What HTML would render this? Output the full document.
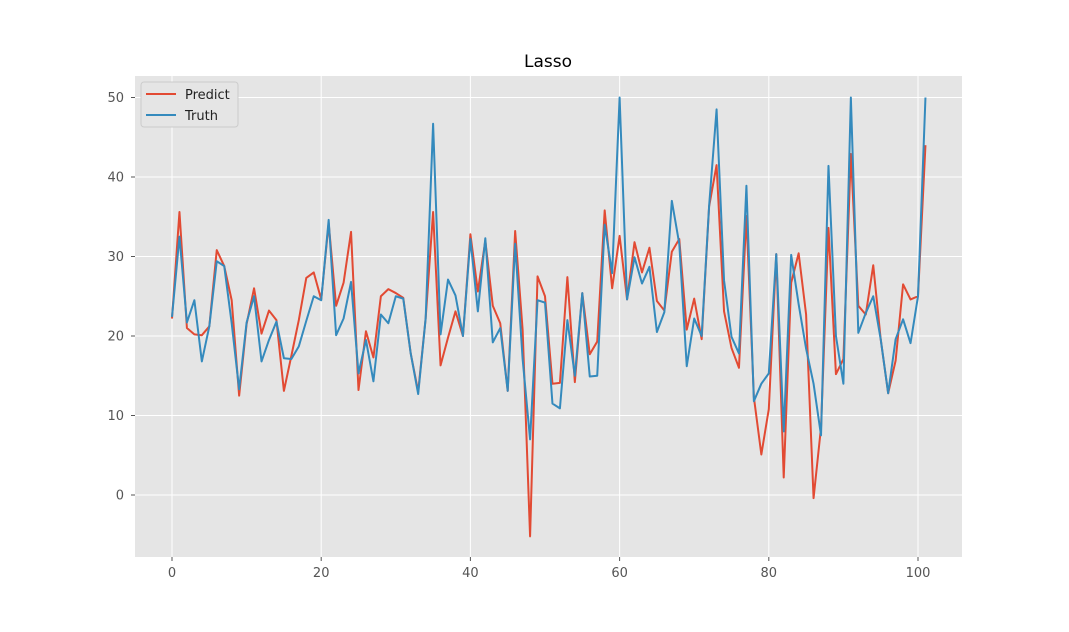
<!DOCTYPE html>
<html><head><meta charset="utf-8"><style>
body{margin:0;background:#fff;font-family:"Liberation Sans","DejaVu Sans",sans-serif;}
svg text{font-family:"DejaVu Sans","Liberation Sans",sans-serif;}
</style></head><body>
<svg id="chart" width="1069" height="627">
<rect x="0" y="0" width="1069" height="627" fill="#fff"/>
<rect x="135" y="76" width="827" height="481" fill="#e5e5e5"/>
<g id="grid"></g><g id="ticks"></g><g id="series"></g>
<text x="548" y="67" font-size="17" text-anchor="middle" fill="#000">Lasso</text>
<g>
<rect x="141" y="82" width="97" height="45" rx="3" fill="#e5e5e5" stroke="#ccc" stroke-width="1"/>
<line x1="146" y1="94" x2="176" y2="94" stroke="#E24A33" stroke-width="2"/>
<text x="185" y="99" font-size="13" fill="#222">Predict</text>
<line x1="146" y1="115" x2="176" y2="115" stroke="#348ABD" stroke-width="2"/>
<text x="185" y="120" font-size="13" fill="#222">Truth</text>
</g>
</svg>
<script>
const predict=[22.2,35.6,21,20.2,20.1,21.2,30.8,28.8,24.5,12.5,21.5,26,20.3,23.2,22,13.1,17.5,22,27.3,28,24.6,34.2,23.8,26.7,33.1,13.2,20.6,17.3,25,25.9,25.4,24.8,17.8,13,22.2,35.6,16.3,19.8,23.1,20,32.8,25.6,32,23.8,21.6,13.1,33.2,20.8,-5.2,27.5,25,14,14.1,27.4,14.2,25.4,17.7,19.3,35.8,26,32.6,24.6,31.8,28,31.1,24.4,23.2,30.6,32.2,20.8,24.7,19.6,36.3,41.5,23.1,18.5,16,35.1,12.3,5.1,10.8,30.3,2.2,26.7,30.4,22.7,-0.4,8.5,33.6,15.2,17.1,42.9,23.8,22.7,28.9,19.6,12.8,16.9,26.5,24.6,25,44];
const truth=[22.4,32.5,21.7,24.5,16.8,21.2,29.4,28.8,21.6,13.3,21.7,25,16.8,19.5,21.8,17.2,17.1,18.7,21.9,25,24.5,34.6,20.1,22.2,26.8,15.3,19.5,14.3,22.7,21.6,25,24.7,17.8,12.7,22.2,46.7,20.2,27.1,25.1,20,32.2,23.1,32.3,19.2,21,13.1,31.6,17.1,7,24.5,24.2,11.5,10.9,22,15,25.4,14.9,15,34,27.9,50,24.6,29.9,26.6,28.7,20.5,23,37,31.6,16.2,22.2,20,36.4,48.5,27,19.9,17.8,38.9,11.8,14,15.3,30.3,8,30.2,24,18.4,14,7.5,41.4,20,14,50,20.4,22.9,25,19.6,12.8,19.6,22.1,19.1,25,50];
const xTicks=[0,20,40,60,80,100];
const yTicks=[0,10,20,30,40,50];
const NS="http://www.w3.org/2000/svg";
const sx=v=>172+v*7.46;
const sy=v=>495-v*7.95;
const grid=document.getElementById('grid'),ticks=document.getElementById('ticks'),ser=document.getElementById('series');
function mk(tag,attrs,parent){const e=document.createElementNS(NS,tag);for(const k in attrs)e.setAttribute(k,attrs[k]);parent.appendChild(e);return e;}
xTicks.forEach(t=>{
 const l=mk('line',{x1:sx(t),x2:sx(t),y1:76,y2:557,stroke:'#fff','stroke-width':1},grid);
 
 
 const k=mk('line',{x1:sx(t),x2:sx(t),y1:557,y2:561,stroke:'#555'},ticks);
 
 
 const tx=mk('text',{x:sx(t),y:577,'font-size':13,'text-anchor':'middle',fill:'#555'},ticks);
 tx.textContent=t;
 
 
});
yTicks.forEach(t=>{
 const l=mk('line',{x1:135,x2:962,y1:sy(t),y2:sy(t),stroke:'#fff','stroke-width':1},grid);
 
 
 const k=mk('line',{x1:131,x2:135,y1:sy(t),y2:sy(t),stroke:'#555'},ticks);
 
 
 const tx=mk('text',{x:124,y:sy(t)+4.5,'font-size':13,'text-anchor':'end',fill:'#555'},ticks);
 tx.textContent=t;
 
 
});
function line(data,color,name){
 const p=mk('polyline',{points:data.map((v,i)=>sx(i)+','+sy(v)).join(' '),fill:'none',stroke:color,'stroke-width':2,'stroke-linejoin':'round'},ser);
 
 
}
line(predict,'#E24A33','predict-line');
line(truth,'#348ABD','truth-line');
</script>
</body></html>
